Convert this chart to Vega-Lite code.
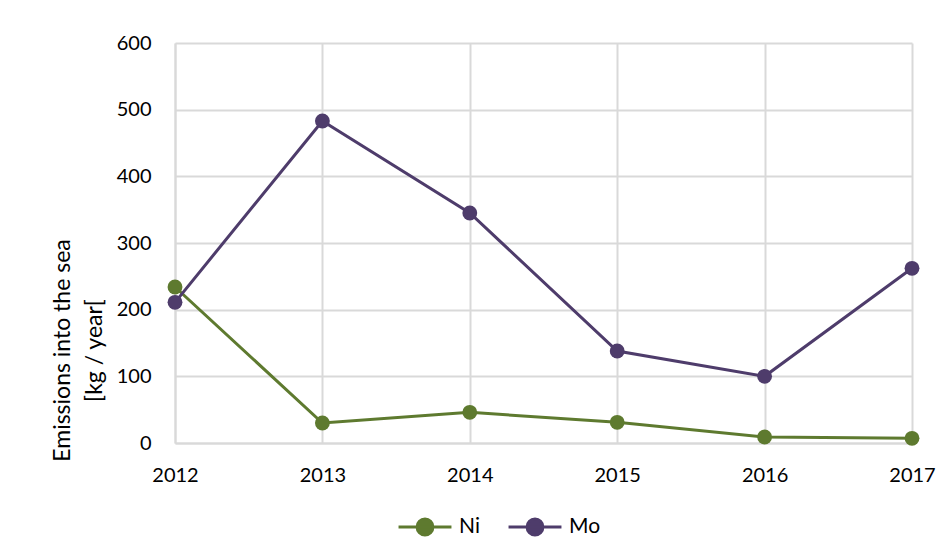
{
  "$schema": "https://vega.github.io/schema/vega-lite/v6.json",
  "autosize": "none",
  "width": 737,
  "height": 400,
  "padding": {"left": 175, "top": 43, "right": 38, "bottom": 115},
  "background": "white",
  "config": {
    "font": "Lato",
    "view": {"stroke": null}
  },
  "data": {
    "values": [
      {"year": 2012, "metal": "Ni", "value": 234},
      {"year": 2013, "metal": "Ni", "value": 30},
      {"year": 2014, "metal": "Ni", "value": 46},
      {"year": 2015, "metal": "Ni", "value": 31},
      {"year": 2016, "metal": "Ni", "value": 9},
      {"year": 2017, "metal": "Ni", "value": 7},
      {"year": 2012, "metal": "Mo", "value": 211},
      {"year": 2013, "metal": "Mo", "value": 483},
      {"year": 2014, "metal": "Mo", "value": 345},
      {"year": 2015, "metal": "Mo", "value": 138},
      {"year": 2016, "metal": "Mo", "value": 100},
      {"year": 2017, "metal": "Mo", "value": 262}
    ]
  },
  "mark": {"type": "line", "strokeWidth": 3, "point": {"filled": true, "size": 220, "opacity": 1}},
  "encoding": {
    "x": {
      "field": "year", "type": "quantitative",
      "scale": {"domain": [2012, 2017], "nice": false, "zero": false},
      "axis": {
        "title": null, "format": "d", "values": [2012, 2013, 2014, 2015, 2016, 2017],
        "labelFontSize": 20, "labelColor": "#000000", "labelPadding": 22,
        "ticks": false, "domainColor": "#d9d9d9", "domainWidth": 2,
        "gridColor": "#d9d9d9", "gridWidth": 2, "labelFlush": false
      }
    },
    "y": {
      "field": "value", "type": "quantitative",
      "scale": {"domain": [0, 600], "nice": false},
      "axis": {
        "title": ["Emissions into the sea", "[kg / year["],
        "titleFontSize": 23, "titleFontWeight": "normal", "titleColor": "#000000",
        "titleY": 307, "titleX": -101, "titleLineHeight": 32,
        "values": [0, 100, 200, 300, 400, 500, 600],
        "labelFontSize": 20, "labelColor": "#000000", "labelPadding": 24,
        "ticks": false, "domainColor": "#d9d9d9", "domainWidth": 2,
        "gridColor": "#d9d9d9", "gridWidth": 2
      }
    },
    "color": {
      "field": "metal", "type": "nominal",
      "scale": {"domain": ["Ni", "Mo"], "range": ["#5E7A2F", "#4E3C6B"]},
      "legend": {
        "title": null, "orient": "none", "direction": "horizontal",
        "legendX": 222, "legendY": 456,
        "labelFontSize": 21, "labelColor": "#000000", "labelOffset": 6,
        "symbolType": "M-1,0L1,0M0.3,0A0.3,0.3,0,1,1,-0.3,0A0.3,0.3,0,1,1,0.3,0Z",
        "symbolSize": 2800, "symbolStrokeWidth": 3, "columnPadding": 22
      }
    }
  }
}
